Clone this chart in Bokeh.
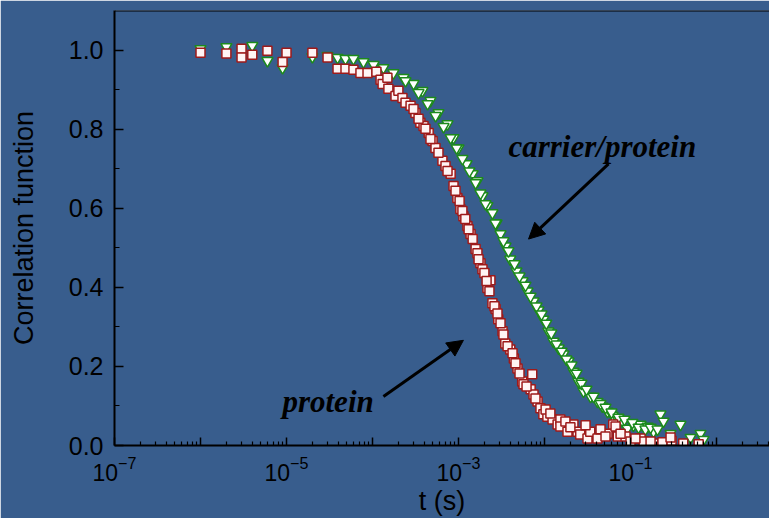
from bokeh.plotting import figure
from bokeh.models import (FixedTicker, PrintfTickFormatter, LogTickFormatter,
                          Arrow, NormalHead, Span, Range1d)
from bokeh.core.properties import value
from bokeh.embed import file_html
from bokeh.resources import INLINE

# ---------------- data ----------------
protein_t = [1.0e-6, 2.0e-6, 3.0e-6, 3.0e-6, 4.0e-6, 6.0e-6, 9.0e-6, 1.0e-5, 2.0e-5, 3.0e-5,
             3.92e-5, 4.85e-5, 6.0e-5, 7.24e-5, 8.75e-5, 1.11e-4, 1.24e-4, 1.31e-4, 1.49e-4, 1.53e-4,
             1.85e-4, 2.0e-4, 2.23e-4, 2.42e-4, 2.77e-4, 3.16e-4, 3.6e-4, 3.92e-4, 4.5e-4, 4.99e-4,
             5.4e-4, 6.5e-4, 8.1e-4, 9.7e-4, 1.05e-3, 1.14e-3, 1.27e-3, 1.38e-3, 1.58e-3, 1.8e-3,
             1.9e-3, 2.17e-3, 2.35e-3, 2.48e-3, 2.7e-3, 2.9e-3, 3.25e-3, 3.5e-3, 4.0e-3, 4.4e-3,
             4.85e-3, 5.5e-3, 5.7e-3, 6.9e-3, 7.2e-3, 7.45e-3, 8.3e-3, 8.97e-3, 9.7e-3, 1.08e-2,
             1.24e-2, 1.42e-2, 1.53e-2, 1.53e-2, 1.85e-2, 2.17e-2, 2.42e-2, 2.6e-2, 3.16e-2, 3.4e-2,
             4.13e-2, 5.4e-2, 6.3e-2, 6.7e-2, 7.1e-2, 8.75e-2, 0.1, 0.131, 0.142, 0.185,
             0.235, 0.3, 0.41, 0.62,
             3.0e-4, 3.43e-4, 4.13e-4, 4.72e-4, 5.85e-4, 7.06e-4, 7.45e-4, 8.75e-4, 9.23e-4, 1.03e-3,
             1.11e-3, 1.2e-3, 1.31e-3, 1.46e-3, 1.66e-3, 1.71e-3, 2.0e-3, 2.12e-3, 2.29e-3, 2.62e-3,
             2.84e-3, 3.08e-3, 3.33e-3, 3.72e-3, 4.25e-3, 4.6e-3, 5.12e-3, 6.18e-3, 7.85e-3, 1.03e-2,
             1.17e-2, 1.75e-2, 2.0e-2, 3.0e-2, 4.48e-2, 5.12e-2, 7.66e-2, 0.114, 0.171, 0.292]
protein_g = [0.993, 0.991, 1.003, 0.981, 0.988, 0.998, 0.970, 0.993, 0.993, 0.981,
             0.953, 0.953, 0.950, 0.942, 0.942, 0.945, 0.925, 0.914, 0.930, 0.902,
             0.884, 0.897, 0.879, 0.867, 0.859, 0.841, 0.816, 0.808, 0.790, 0.770,
             0.752, 0.720, 0.687, 0.626, 0.598, 0.580, 0.555, 0.535, 0.497, 0.461,
             0.446, 0.398, 0.418, 0.360, 0.345, 0.319, 0.289, 0.258, 0.243, 0.220,
             0.195, 0.162, 0.155, 0.142, 0.180, 0.129, 0.111, 0.094, 0.079, 0.073,
             0.066, 0.053, 0.066, 0.048, 0.035, 0.053, 0.035, 0.028, 0.018, 0.035,
             0.018, 0.030, 0.053, 0.048, 0.023, 0.023, 0.010, 0.018, 0.010, 0.005,
             0.008, 0.012, 0.005, 0.003,
             0.851, 0.826, 0.801, 0.775, 0.740, 0.707, 0.694, 0.656, 0.644, 0.618,
             0.593, 0.573, 0.547, 0.522, 0.486, 0.471, 0.436, 0.416, 0.390, 0.352,
             0.334, 0.309, 0.281, 0.251, 0.233, 0.208, 0.182, 0.149, 0.119, 0.091,
             0.081, 0.061, 0.046, 0.051, 0.041, 0.023, 0.030, 0.018, 0.010, 0.020]

carrier_t = [1.0e-6, 2.0e-6, 4.0e-6, 6.0e-6, 9.0e-6, 2.0e-5, 3.0e-5,
             3.92e-5, 4.85e-5, 6.0e-5, 7.85e-5, 1.03e-4, 1.34e-4, 1.75e-4, 2.29e-4, 3.0e-4, 3.81e-4,
             4.72e-4, 5.85e-4, 7.45e-4, 8.75e-4, 1.0e-3, 1.24e-3, 1.46e-3, 1.66e-3, 1.9e-3, 2.17e-3,
             2.48e-3, 2.77e-3, 3.08e-3, 3.52e-3, 4.0e-3, 4.72e-3, 5.55e-3, 6.34e-3, 7.45e-3, 8.5e-3,
             9.7e-3, 1.11e-2, 1.27e-2, 1.46e-2, 1.66e-2, 1.9e-2, 2.17e-2, 2.48e-2, 2.84e-2, 3.43e-2,
             4.13e-2, 4.72e-2, 5.4e-2, 6.18e-2, 7.06e-2, 8.07e-2, 9.2e-2, 0.108, 0.131, 0.158,
             0.185, 0.223, 0.242, 0.292, 0.381, 0.499, 0.652, 0.706,
             2.42e-4, 3.43e-4, 4.37e-4, 5.41e-4, 6.7e-4, 8.1e-4, 9.5e-4, 1.11e-3, 1.34e-3, 1.58e-3,
             1.8e-3, 2.06e-3, 2.69e-3, 3.33e-3, 3.81e-3, 4.48e-3, 5.12e-3, 6.01e-3, 6.88e-3, 8.07e-3,
             9.23e-3, 1.05e-2, 1.2e-2, 1.38e-2, 1.58e-2, 1.8e-2, 2.06e-2, 2.36e-2, 2.69e-2, 3.08e-2,
             3.72e-2, 4.48e-2, 5.12e-2, 6.01e-2, 7.24e-2, 8.51e-2, 0.105, 0.124, 0.149, 0.171, 0.206]
carrier_g = [1.003, 1.008, 1.011, 0.973, 0.955, 0.983, 0.986,
             0.981, 0.978, 0.978, 0.970, 0.963, 0.955, 0.942, 0.930, 0.915, 0.897,
             0.872, 0.841, 0.813, 0.778, 0.752, 0.712, 0.687, 0.669, 0.631, 0.606,
             0.588, 0.562, 0.535, 0.504, 0.471, 0.441, 0.416, 0.390, 0.365, 0.342,
             0.319, 0.289, 0.263, 0.246, 0.231, 0.213, 0.187, 0.162, 0.137, 0.124,
             0.111, 0.099, 0.086, 0.076, 0.068, 0.061, 0.043, 0.051, 0.053, 0.048,
             0.035, 0.079, 0.061, 0.030, 0.053, 0.020, 0.030, 0.015,
             0.922, 0.892, 0.864, 0.834, 0.806, 0.778, 0.752, 0.725, 0.694, 0.664,
             0.638, 0.611, 0.562, 0.517, 0.492, 0.459, 0.428, 0.405, 0.377, 0.352,
             0.332, 0.309, 0.284, 0.256, 0.238, 0.218, 0.203, 0.182, 0.157, 0.142,
             0.124, 0.106, 0.096, 0.084, 0.071, 0.066, 0.058, 0.046, 0.041, 0.046, 0.041]

x_major_ticks = [1e-7, 1e-6, 1e-5, 1e-4, 1e-3, 1e-2, 1e-1, 1e0, 1e1]
x_unlabelled = [1e-6, 1e-4, 1e-2, 1e0, 1e1]
x_minor_ticks = [k * d for d in [1e-7, 1e-6, 1e-5, 1e-4, 1e-3, 1e-2, 1e-1, 1e0] for k in range(2, 10)]
y_major_ticks = [0.0, 0.2, 0.4, 0.6, 0.8, 1.0]
y_minor_ticks = [0.1, 0.3, 0.5, 0.7, 0.9]

x_label = "t (s)"
y_label = "Correlation function"
annot_text = ["carrier/protein", "protein"]
annot_x = [3.81e-3, 8.97e-6]
annot_y = [0.755, 0.111]

# ---------------- style ----------------
BG = "#385D8D"
SANS = "Liberation Sans"

p = figure(width=769, height=518, x_axis_type="log",
           x_range=Range1d(1e-7, 10 ** 0.616), y_range=Range1d(0.0, 1.1),
           output_backend="svg", toolbar_location=None,
           min_border_left=114, min_border_top=10, min_border_right=0, min_border_bottom=0)
p.background_fill_color = BG
p.border_fill_color = BG
p.outline_line_color = None
p.grid.visible = False

# top frame line
p.add_layout(Span(location=1.1, dimension="width", line_color="black", line_width=2))

xa = p.xaxis[0]
xa.ticker = FixedTicker(ticks=x_major_ticks, minor_ticks=x_minor_ticks)
xa.formatter = LogTickFormatter()
xa.major_label_overrides = {t: "" for t in x_unlabelled}
ya = p.yaxis[0]
ya.ticker = FixedTicker(ticks=y_major_ticks, minor_ticks=y_minor_ticks)
ya.formatter = PrintfTickFormatter(format="%.1f")

for ax in (xa, ya):
    ax.axis_line_color = "black"
    ax.axis_line_width = 2
    ax.major_tick_line_color = "black"
    ax.minor_tick_line_color = "black"
    ax.major_tick_line_width = 1.5
    ax.minor_tick_line_width = 1.2
    ax.major_tick_out = 0
    ax.minor_tick_out = 0
    ax.major_label_text_font = SANS
    ax.major_label_text_font_size = "23px"
    ax.major_label_text_color = "black"
    ax.axis_label_text_font = SANS
    ax.axis_label_text_font_size = "27px"
    ax.axis_label_text_font_style = "normal"
    ax.axis_label_text_color = "black"

ya.major_label_text_font_size = "25px"
xa.major_tick_in = 8
xa.minor_tick_in = 4
ya.major_tick_in = 9
ya.minor_tick_in = 5
xa.axis_label = x_label
ya.axis_label = y_label
xa.major_label_standoff = 10
xa.axis_label_standoff = 2
ya.major_label_standoff = 11
ya.axis_label_standoff = 27

# data
p.scatter(carrier_t, carrier_g, marker="inverted_triangle", size=11,
          line_color="#1C8A1C", line_width=1.5, fill_color="white")
p.scatter(protein_t, protein_g, marker="square", size=9,
          line_color="#9E1A1A", line_width=1.5, fill_color="#FFF4F4")

# annotations
p.text(annot_x, annot_y, text=annot_text, text_font=value("Liberation Serif"),
       text_font_style="bold italic", text_font_size="31px", text_color="black",
       text_baseline="alphabetic", text_align="left")

p.add_layout(Arrow(end=NormalHead(size=16, fill_color="black", line_color="black"),
                   x_start=0.0555, y_start=0.712, x_end=6.52e-3, y_end=0.522,
                   line_width=3, line_color="black"))
p.add_layout(Arrow(end=NormalHead(size=16, fill_color="black", line_color="black"),
                   x_start=1.34e-4, y_start=0.124, x_end=1.14e-3, y_end=0.266,
                   line_width=3, line_color="black"))

open("out.html", "w").write(file_html(p, INLINE))
